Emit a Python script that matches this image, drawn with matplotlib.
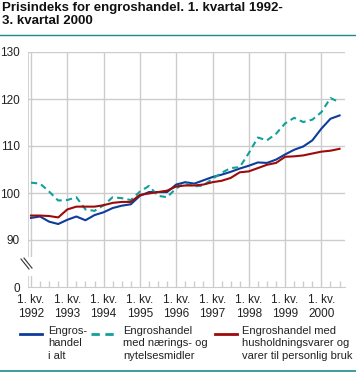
import numpy as np
import matplotlib
matplotlib.use("Agg")
import matplotlib.pyplot as plt
from matplotlib.lines import Line2D
from matplotlib.patches import Rectangle

plt.rcParams["font.family"] = ["Liberation Sans", "DejaVu Sans"]

# quarterly index, 1. kv. 1992 - 3. kv. 2000
years = [1992, 1993, 1994, 1995, 1996, 1997, 1998, 1999, 2000]
i_alt = [94.7, 95.0, 93.9, 93.4, 94.3, 95.0, 94.2, 95.3, 95.9, 96.8, 97.3, 97.6,
         99.4, 100.2, 100.2, 100.2, 101.8, 102.3, 102.0, 102.7, 103.4, 103.9, 104.5, 105.2,
         105.8, 106.5, 106.4, 107.1, 108.2, 109.2, 109.9, 111.2, 113.7, 115.8, 116.5]
naering = [102.2, 102.0, 100.3, 98.4, 98.5, 99.1, 96.5, 96.2, 97.4, 99.1, 98.9, 98.5,
           100.3, 101.5, 99.4, 99.1, 101.0, 102.1, 101.4, 101.6, 103.0, 104.3, 105.3, 105.5,
           108.5, 111.8, 111.2, 112.6, 114.8, 116.0, 115.1, 115.6, 117.2, 120.2, 119.3]
husholdning = [95.2, 95.2, 95.1, 94.8, 96.5, 97.1, 97.1, 97.1, 97.4, 97.9, 98.1, 98.1,
               99.6, 99.9, 100.2, 100.5, 101.4, 101.6, 101.6, 101.8, 102.3, 102.6, 103.2, 104.4,
               104.6, 105.3, 106.0, 106.4, 107.7, 107.8, 108.0, 108.4, 108.8, 109.0, 109.4]
labels = ["Engros-\nhandel\ni alt",
          "Engroshandel\nmed nærings- og\nnytelsesmidler",
          "Engroshandel med\nhusholdningsvarer og\nvarer til personlig bruk"]
colors = ["#0d3c9b", "#12a09a", "#9e0a0a"]
styles = ["-", "--", "-"]

W, H = 356, 372
fig = plt.figure(figsize=(W / 100, H / 100), dpi=100)

def fx(px):
    return px / W

def fy(py):
    return 1 - py / H

ax = fig.add_axes([fx(28), fy(287), fx(345) - fx(28), fy(52) - fy(287)])
q = np.arange(len(i_alt))
grid_c = "#cccccc"

for s, c, ls in zip([i_alt, naering, husholdning], colors, styles):
    if ls == "--":
        ax.plot(q, s, color=c, lw=1.5, ls=(0, (3, 2)), zorder=3)
    else:
        ax.plot(q, s, color=c, lw=1.5, zorder=3)

ax.set_xlim(-0.33, 34.6)
ax.set_ylim(80, 130)
ax.set_yticks([80, 90, 100, 110, 120, 130])
ax.set_yticklabels(["0", "90", "100", "110", "120", "130"])
ax.set_xticks(np.arange(0, 35, 4))
ax.set_xticklabels([f"1. kv.\n{y}" for y in years])
ax.set_xticks(np.arange(0, 35), minor=True)
ax.tick_params(axis="both", which="major", length=0, labelsize=8.5, colors="#222222")
ax.tick_params(axis="y", pad=6)
ax.tick_params(axis="x", pad=5)
ax.tick_params(axis="x", which="minor", direction="in", length=4.5, color=grid_c, width=1)
for yv in [90, 100, 110, 120, 130]:
    ax.axhline(yv, color=grid_c, lw=1, zorder=1)
for xv in np.arange(0, 35, 4):
    ax.axvline(xv, color=grid_c, lw=1, zorder=1)
ax.axvline(-0.33, color=grid_c, lw=1.2, zorder=1)
for sp in ["top", "right", "left"]:
    ax.spines[sp].set_visible(False)
ax.spines["bottom"].set_color(grid_c)

# axis break
ax.add_patch(Rectangle((-1, 82.3), 1.6, 4.1, facecolor="white", edgecolor="none",
                       zorder=2, clip_on=False))
for dx in [0, 3]:
    fig.add_artist(Line2D([fx(21 + dx), fx(29 + dx)], [fy(259 - dx * 0.3), fy(269 - dx * 0.3)],
                          color="#333333", lw=0.8))

# title
fig.text(fx(2), fy(1.5), "Prisindeks for engroshandel. 1. kvartal 1992-\n3. kvartal 2000",
         ha="left", va="top", fontsize=9.5, fontweight="bold", color="#111111",
         linespacing=1.15)
fig.add_artist(Line2D([0, 1], [fy(34.5), fy(34.5)], color="#1a8c8c", lw=1))
fig.add_artist(Line2D([0, 1], [fy(371), fy(371)], color="#1a8c8c", lw=1.2))

# legend
hx = [(20, 42, 48), (91, 115, 123), (215, 237, 242)]
for (x0, x1, tx), c, ls, lab in zip(hx, colors, styles, labels):
    fig.add_artist(Line2D([fx(x0), fx(x1)], [fy(334), fy(334)], color=c, lw=2,
                          ls=(0, (3, 2)) if ls == "--" else "-"))
    fig.text(fx(tx), fy(326), lab, ha="left", va="top", fontsize=8, color="#222222",
             linespacing=1.3)

fig.savefig("out.png", dpi=100)
